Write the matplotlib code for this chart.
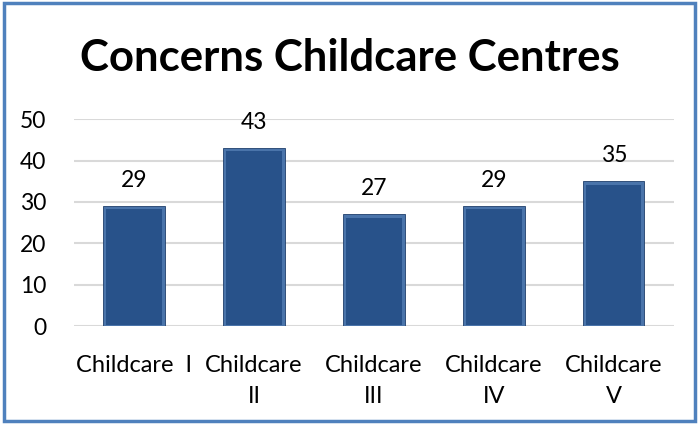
import matplotlib

matplotlib.use("Agg")
import matplotlib.pyplot as plt
from matplotlib.patches import Rectangle

categories = ["Childcare  I", "Childcare\nII", "Childcare\nIII", "Childcare\nIV", "Childcare\nV"]
values = [29, 43, 27, 29, 35]
yticks = [0, 10, 20, 30, 40, 50]
title = "Concerns Childcare Centres"

plt.rcParams["font.family"] = ["Lato", "DejaVu Sans"]

fig = plt.figure(figsize=(6.99, 4.24), dpi=100)
ax = fig.add_axes([0.106, 0.231, 0.858, 0.488])

x = list(range(len(values)))
# outer bar = light bevel, inner bar = dark face
ax.bar(x, values, width=0.51, color="#4A74AA", edgecolor="#1F3F6B", linewidth=0.6, zorder=3)
ax.bar(x, [v - 1.0 for v in values], bottom=0.2, width=0.46, color="#28528A", linewidth=0, zorder=4)

for xi, v in zip(x, values):
    ax.text(xi, v + 3.6, str(v), ha="center", va="bottom", fontsize=16.5, color="black")

ax.set_xlim(-0.5, len(values) - 0.5)
ax.set_ylim(0, 50)
ax.set_yticks(yticks)
ax.set_xticks(x)
ax.set_xticklabels(categories, fontsize=17, linespacing=1.55)
ax.tick_params(axis="y", length=0, pad=20, labelsize=16.5)
ax.tick_params(axis="x", length=0, pad=21)
ax.grid(axis="y", color="#D9D9D9", linewidth=1.5, zorder=0)
for s in ax.spines.values():
    s.set_visible(False)

fig.text(0.5, 0.863, title, ha="center", va="center", fontsize=31.5, fontweight="bold")

fig.patches.append(Rectangle((0.006, 0.006), 0.988, 0.988, transform=fig.transFigure,
                             fill=False, edgecolor="#4F81BD", linewidth=2.5))

fig.savefig("out.png", dpi=100)
